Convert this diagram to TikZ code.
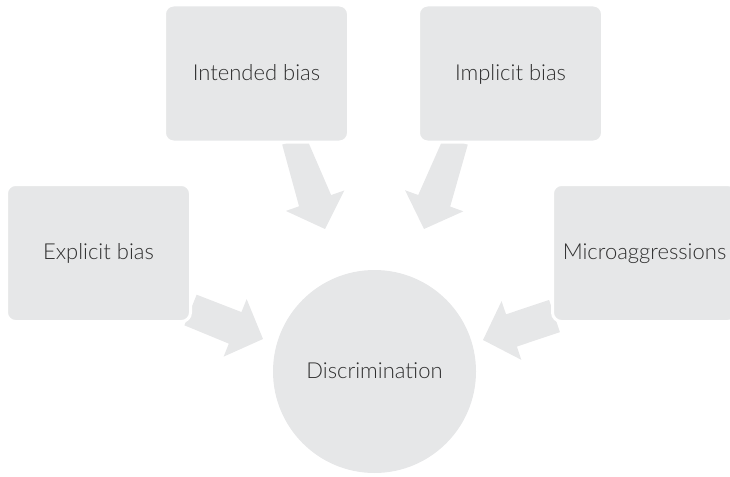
\documentclass[tikz,border=0pt]{standalone}
\usepackage{fontspec}
\setmainfont{Lato Light}
\usetikzlibrary{calc,backgrounds}
\definecolor{shape gray}{HTML}{E6E7E8}
\definecolor{label gray}{HTML}{2E2E2E}
\tikzset{
    % Shapes
    label font/.style={text=label gray,font=\fontsize{22}{26}\selectfont,text height=1.35em,text depth=0pt},
    bias box/.style={rectangle,rounded corners=9pt,fill=shape gray,draw=white,line width=3pt,
        minimum width=184pt,minimum height=137pt,label font},
    result circle/.style={circle,fill=shape gray,minimum size=203pt,inner sep=0pt,label font},
    %
    % Arrows
    block arrow/.style={fill=shape gray}
}
% tail, tip, half width at the tail
\newcommand{\convarrow}[3]{%
    \coordinate (neck) at ($(#2)!30pt!(#1)$);
    \fill[block arrow] ($(#1)!#3!90:(#2)$) -- ($(neck)!17pt!90:(#2)$) -- ($(neck)!31pt!90:(#2)$)
        -- (#2) -- ($(neck)!31pt!-90:(#2)$) -- ($(neck)!17pt!-90:(#2)$) -- ($(#1)!#3!-90:(#2)$) -- cycle;
}

\begin{document}
\begin{tikzpicture}[x=1pt,y=-1pt]
    \useasboundingbox (0,0) rectangle (730,476);

    \node[bias box] (intended) at (256.5,73.5) {Intended bias};
    \node[bias box] (implicit) at (510.5,73.5) {Implicit bias};
    \node[bias box] (explicit) at (98.5,253) {Explicit bias};
    \node[bias box] (micro) at (644.5,253) {Microaggressions};
    \node[result circle] (discr) at (374.5,371.5) {Discrimination};

    \coordinate (intended tail) at ($(intended.south)+(37.5,-3)$);
    \coordinate (implicit tail) at ($(implicit.south)+(-54.5,-3)$);
    \coordinate (explicit tail) at ($(explicit.east)+(-1.5,57)$);
    \coordinate (micro tail) at ($(micro.west)+(3.5,63)$);
    \coordinate (intended tip) at ($(discr.center)+(-49.5,-142.5)$);
    \coordinate (implicit tip) at ($(discr.center)+(49.5,-142.5)$);
    \coordinate (explicit tip) at ($(discr.center)+(-111.5,-32.5)$);
    \coordinate (micro tip) at ($(discr.center)+(108.5,-31.5)$);

    \begin{scope}[on background layer]
        \convarrow{intended tail}{intended tip}{12.5pt}
        \convarrow{implicit tail}{implicit tip}{12.5pt}
        \convarrow{explicit tail}{explicit tip}{16.5pt}
        \convarrow{micro tail}{micro tip}{17pt}
    \end{scope}
\end{tikzpicture}
\end{document}
